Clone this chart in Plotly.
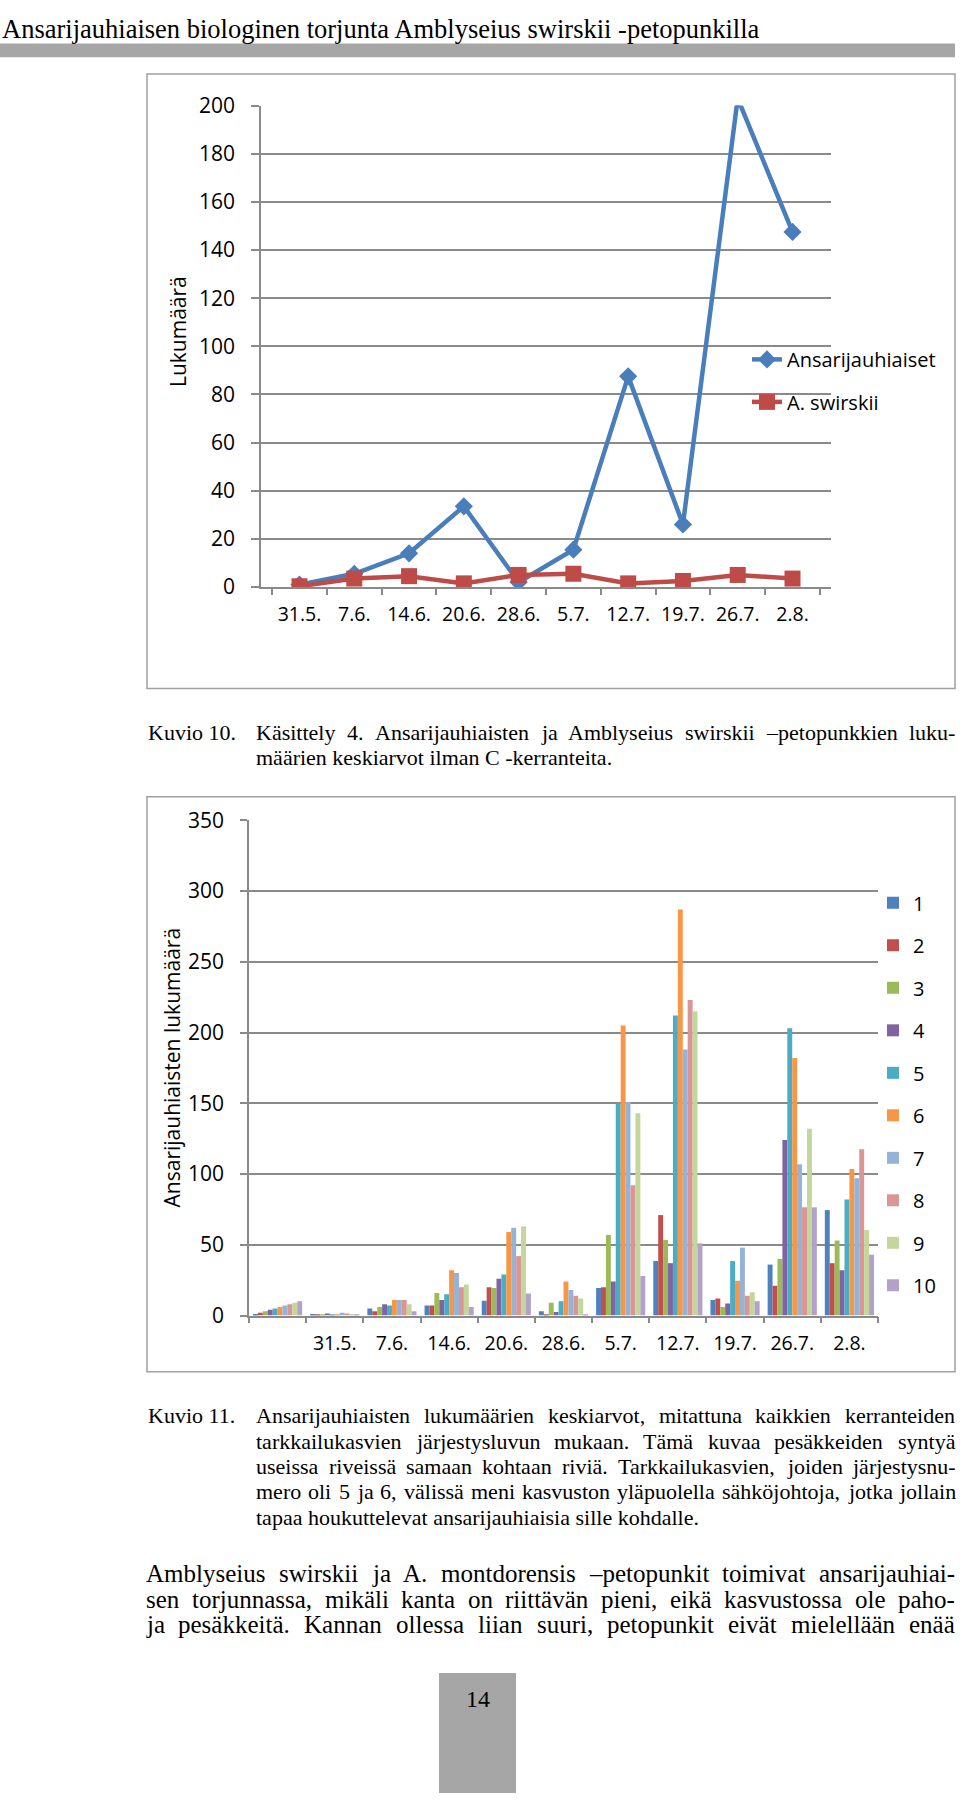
import plotly.graph_objects as go

W, H = 960, 1806

# ---------------- data ----------------
dates = ["31.5.", "7.6.", "14.6.", "20.6.", "28.6.", "5.7.", "12.7.", "19.7.", "26.7.", "2.8."]
ansarijauhiaiset = [1, 5.5, 14, 33.5, 2, 15.5, 87.5, 26, 203, 147.5]
a_swirskii = [0.3, 3.5, 4.5, 1.5, 5, 5.5, 1.5, 2.5, 5, 3.5]

bar_categories = ["\u200b"] + dates
plant_names = ["1", "2", "3", "4", "5", "6", "7", "8", "9", "10"]
plant_1 = [1, 1, 5, 7, 10.5, 3, 19.5, 38.5, 11, 36, 74.5]
plant_2 = [2, 0.5, 3, 7, 20, 0.7, 20, 71, 12, 21, 37]
plant_3 = [3, 0.5, 6, 16, 19.5, 9, 57, 53.5, 6, 40, 53]
plant_4 = [4, 1.5, 8, 11, 26, 2.5, 24, 37, 8.5, 124, 32]
plant_5 = [5, 0.5, 7, 15, 29, 10, 150, 212, 38.5, 203, 82]
plant_6 = [6, 0.5, 11, 32, 59, 24, 205, 287, 24.5, 182, 103.5]
plant_7 = [7, 2, 11, 30, 62, 18, 151, 188, 48, 107, 97]
plant_8 = [8, 1.5, 11, 20, 42, 14, 92, 223, 14, 76.5, 117.5]
plant_9 = [9, 1, 8, 22, 63, 12, 143, 215, 16.5, 132, 60.5]
plant_10 = [10, 0.5, 3, 6, 15.5, 0.7, 28, 51, 10, 76.5, 43]
plant_series = [plant_1, plant_2, plant_3, plant_4, plant_5,
                plant_6, plant_7, plant_8, plant_9, plant_10]
bar_colors = ["#4F81BD", "#C0504D", "#9BBB59", "#8064A2", "#4BACC6",
              "#F79646", "#95B3D7", "#D99694", "#C3D69B", "#B3A2C7"]

y1_ticks = [0, 20, 40, 60, 80, 100, 120, 140, 160, 180, 200]
y2_ticks = [0, 50, 100, 150, 200, 250, 300, 350]

header_text = "Ansarijauhiaisen biologinen torjunta Amblyseius swirskii -petopunkilla"
cap10_label = "Kuvio 10."
cap10_lines = ["Käsittely 4. Ansarijauhiaisten ja Amblyseius swirskii –petopunkkien luku-",
               "määrien keskiarvot ilman C -kerranteita."]
cap11_label = "Kuvio 11."
cap11_lines = ["Ansarijauhiaisten lukumäärien keskiarvot, mitattuna kaikkien kerranteiden",
               "tarkkailukasvien järjestysluvun mukaan. Tämä kuvaa pesäkkeiden syntyä",
               "useissa riveissä samaan kohtaan riviä. Tarkkailukasvien, joiden järjestysnu-",
               "mero oli 5 ja 6, välissä meni kasvuston yläpuolella sähköjohtoja, jotka jollain",
               "tapaa houkuttelevat ansarijauhiaisia sille kohdalle."]
para_lines = ["Amblyseius swirskii ja A. montdorensis –petopunkit toimivat ansarijauhiai-",
              "sen torjunnassa, mikäli kanta on riittävän pieni, eikä kasvustossa ole paho-",
              "ja pesäkkeitä. Kannan ollessa liian suuri, petopunkit eivät mielellään enää"]
page_number = "14"

# ---------------- helpers ----------------
def px(x):
    return x / W


def py(y):
    return 1 - y / H


SERIF = "Liberation Serif, Times New Roman, serif"
SANS = "Open Sans, sans-serif"
GRID = "#8a8a8a"

TW = {' ': 250, 'a': 444, 'b': 500, 'c': 444, 'd': 500, 'e': 444, 'f': 333, 'g': 500,
      'h': 500, 'i': 278, 'j': 278, 'k': 500, 'l': 278, 'm': 778, 'n': 500, 'o': 500,
      'p': 500, 'q': 500, 'r': 333, 's': 389, 't': 278, 'u': 500, 'v': 500, 'w': 722,
      'x': 500, 'y': 500, 'z': 444, 'A': 722, 'C': 667, 'K': 722, 'T': 611, 'M': 889,
      '.': 250, ',': 250, '-': 333, '–': 500, 'ä': 444, 'ö': 500, 'å': 444}


def tw(word, size):
    return sum(TW.get(c, 500) for c in word) * size / 1000.0


annotations = []


def add_text(text, x, y, size, xanchor="left", family=SERIF, **kw):
    annotations.append(dict(text=text, x=px(x), y=py(y), xref="paper", yref="paper",
                            xanchor=xanchor, yanchor="middle", showarrow=False,
                            borderpad=0, borderwidth=0,
                            font=dict(family=family, size=size, color="#000000"), **kw))


def justify(line, x0, x1, y, size):
    words = line.split(" ")
    widths = [tw(w, size) for w in words]
    gap = (x1 - x0 - sum(widths)) / (len(words) - 1)
    x = x0
    for w, wd in zip(words, widths):
        add_text(w, x, y, size)
        x += wd + gap


# ---------------- figure ----------------
fig = go.Figure()

fig.add_trace(go.Scatter(x=dates, y=ansarijauhiaiset, name="Ansarijauhiaiset",
                         mode="lines+markers", xaxis="x", yaxis="y",
                         line=dict(color="#4A7EBB", width=4.5),
                         marker=dict(symbol="diamond", size=14, color="#4A7EBB"),
                         legend="legend", legendgroup="a"))
fig.add_trace(go.Scatter(x=dates, y=a_swirskii, name="A. swirskii",
                         mode="lines+markers", xaxis="x", yaxis="y",
                         line=dict(color="#BE4B48", width=4.5),
                         marker=dict(symbol="square", size=16, color="#BE4B48"),
                         legend="legend", legendgroup="b"))

for name, vals, col in zip(plant_names, plant_series, bar_colors):
    fig.add_trace(go.Bar(x=bar_categories, y=vals, name=name, marker_color=col,
                         marker_line_width=0, xaxis="x2", yaxis="y2",
                         legend="legend2", legendgroup="p" + name))

line_common = dict(showline=True, linecolor=GRID, linewidth=1.5)
yfont = dict(family=SANS, size=21, color="#000000")
xfont = dict(family=SANS, size=19.5, color="#000000")

fig.update_layout(
    width=W, height=H, autosize=False,
    margin=dict(l=0, r=0, t=0, b=0),
    paper_bgcolor="white", plot_bgcolor="rgba(0,0,0,0)",
    showlegend=True,
    barmode="group", bargap=0.14, bargroupgap=0,
    xaxis=dict(domain=[px(261), px(831)], anchor="y", type="category", tickangle=0,
               ticks="outside", tickson="boundaries", ticklen=6, tickcolor=GRID,
               tickwidth=1.5, showgrid=False, ticklabelstandoff=9, tickfont=xfont,
               **line_common),
    yaxis=dict(domain=[py(581), py(92)], anchor="x", range=[0, 200],
               tickvals=y1_ticks, ticks="outside", ticklen=8, tickcolor=GRID,
               tickwidth=1.5, showgrid=True, gridcolor=GRID, gridwidth=1.5,
               zeroline=False, ticklabelstandoff=12, tickfont=yfont, **line_common),
    xaxis2=dict(domain=[px(249), px(878)], anchor="y2", type="category", tickangle=0,
                ticks="outside", tickson="boundaries", ticklen=6, tickcolor=GRID,
                tickwidth=1.5, showgrid=False, ticklabelstandoff=9, tickfont=xfont,
                **line_common),
    yaxis2=dict(domain=[py(1321), py(818)], anchor="x2", range=[0, 350],
                tickvals=y2_ticks, ticks="outside", ticklen=7, tickcolor=GRID,
                tickwidth=1.5, showgrid=True, gridcolor=GRID, gridwidth=1.5,
                zeroline=False, ticklabelstandoff=12, tickfont=yfont, **line_common),
    legend=dict(x=px(747), y=py(330), xanchor="left", yanchor="top",
                bgcolor="rgba(0,0,0,0)", tracegroupgap=13.5,
                font=dict(family=SANS, size=20, color="#000000")),
    legend2=dict(x=px(873), y=py(882), xanchor="left", yanchor="top",
                 bgcolor="rgba(0,0,0,0)", tracegroupgap=13.5,
                 font=dict(family=SANS, size=20, color="#000000")),
)

shapes = [
    # header bar
    dict(type="rect", xref="paper", yref="paper", x0=px(0), x1=px(955), y0=py(43), y1=py(29),
         fillcolor="#a6a6a6", line=dict(width=0), layer="below"),
    # chart borders
    dict(type="rect", xref="paper", yref="paper", x0=px(147), x1=px(955), y0=py(684), y1=py(60),
         fillcolor="rgba(0,0,0,0)", line=dict(color="#a0a0a0", width=1.5), layer="below"),
    dict(type="rect", xref="paper", yref="paper", x0=px(147), x1=px(955), y0=py(1378), y1=py(794),
         fillcolor="rgba(0,0,0,0)", line=dict(color="#a0a0a0", width=1.5), layer="below"),
    # page number box
    dict(type="rect", xref="paper", yref="paper", x0=px(439), x1=px(516), y0=py(1806), y1=py(1684),
         fillcolor="#a6a6a6", line=dict(width=0), layer="below"),
]

# header
add_text(header_text, 2, 14, 26.5)
# axis titles
add_text("Lukumäärä", 178, 322, 21, xanchor="center", family=SANS, textangle=-90)
add_text("Ansarijauhiaisten lukumäärä", 172, 1070, 21, xanchor="center", family=SANS, textangle=-90)
# caption 10
add_text(cap10_label, 148, 729, 22)
justify(cap10_lines[0], 256, 955, 729, 22)
add_text(cap10_lines[1], 256, 754, 22)
# caption 11
add_text(cap11_label, 148, 1423, 22)
cap11_y = [1423, 1449, 1474, 1500, 1526]
for i, (line, yy) in enumerate(zip(cap11_lines, cap11_y)):
    if i < len(cap11_lines) - 1:
        justify(line, 256, 955, yy, 22)
    else:
        add_text(line, 256, yy, 22)
# paragraph
for line, yy in zip(para_lines, [1583, 1609, 1635]):
    justify(line, 146, 955, yy, 25)
# page number
add_text(page_number, 478, 1711, 24, xanchor="center")

fig.update_layout(shapes=shapes, annotations=annotations)

fig.write_html("out.html", config={"displayModeBar": False},
               post_script="document.body.style.margin='0';document.body.style.overflow='hidden';")
